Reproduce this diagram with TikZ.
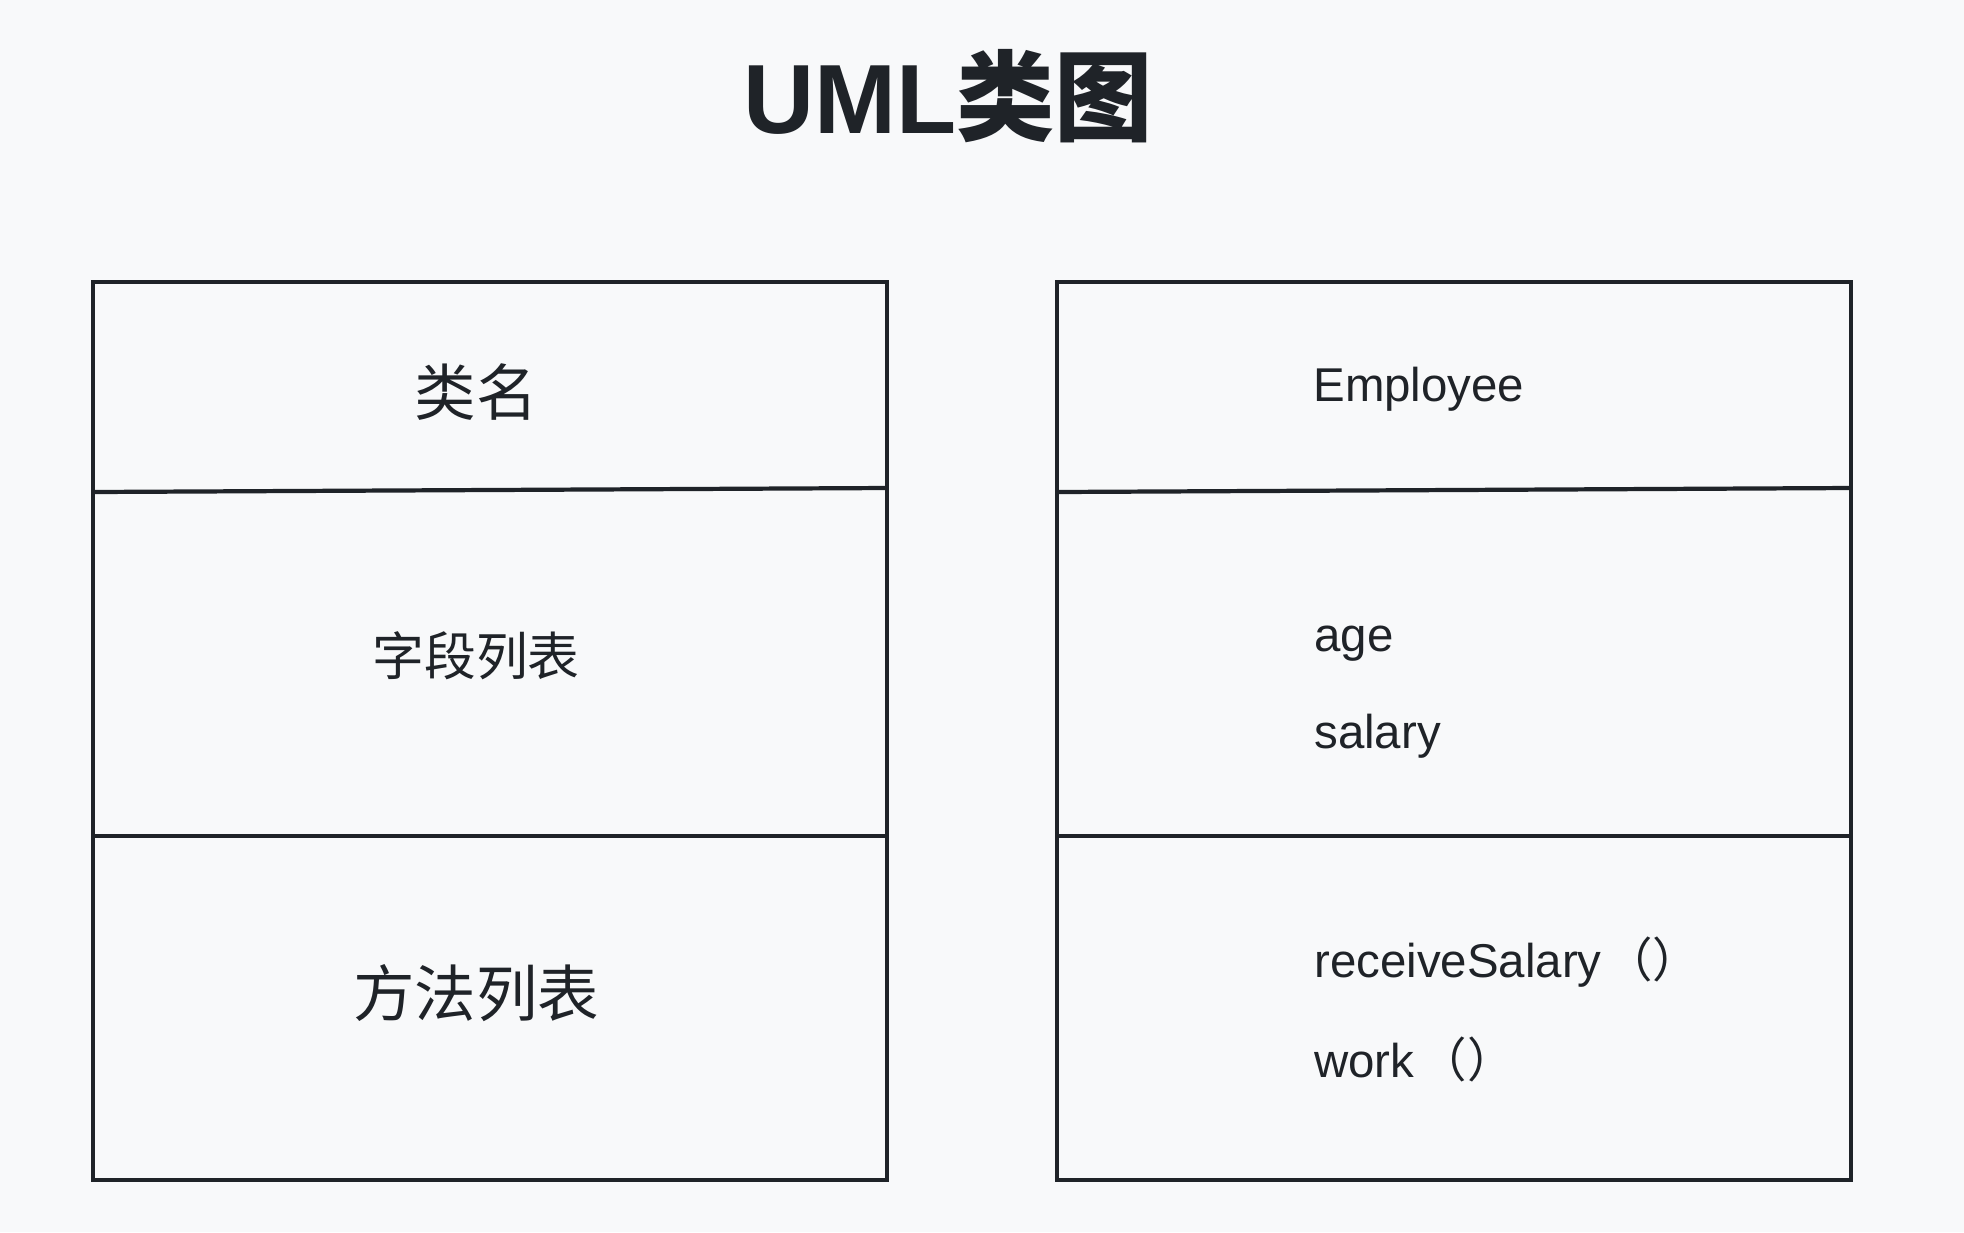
\documentclass[tikz,border=0pt]{standalone}
\usepackage{fontspec}
\setmainfont{Liberation Sans}
\newfontfamily\cjk{Noto Sans CJK SC}
\usepackage{tikz}
\usetikzlibrary{positioning}
\definecolor{ink}{HTML}{1F2328}
\definecolor{paper}{HTML}{F8F9FA}

\begin{document}
\begin{tikzpicture}[x=0.02cm,y=-0.02cm,
    box/.style={draw=ink,line width=2.4pt},
    cnlabel/.style={text=ink,inner sep=0pt,font=\cjk\fontsize{35}{40}\selectfont},
    member/.style={text=ink,inner sep=0pt,anchor=base west,font=\fontsize{27}{31}\selectfont}]
  \useasboundingbox[fill=paper] (0,0) rectangle (1964,1232);
  % title
  \node[text=ink,inner sep=0pt] (title) at (948,96)
    {\fontsize{56}{60}\selectfont\bfseries UML{\cjk 类图}};
  % two class boxes with their compartments
  \foreach \x in {93,1057} {
    \draw[box] (\x,282) rectangle (\x+794,1180);
    \draw[box] (\x,492) -- (\x+794,488);
    \draw[box] (\x,836) -- (\x+794,836);
  }
  % left box: generic layout
  \node[cnlabel] (clsname) at (476,392) {类名};
  \node[cnlabel,font=\cjk\fontsize{29.5}{34}\selectfont] (fields) at (476,656) {字段列表};
  \node[cnlabel] (methods) at (476,993) {方法列表};
  % right box: Employee
  \node[member] (ename) at (1313,401) {Employee};
  \node[member] (fage) at (1314,651) {age};
  \node[member] (fsalary) at (1314,748) {salary};
  \node[member] (mrecv) at (1314,977) {receiveSalary\hspace{2pt}{\cjk （）}};
  \node[member] (mwork) at (1314,1077) {work\hspace{3pt}{\cjk （）}};
\end{tikzpicture}
\end{document}
